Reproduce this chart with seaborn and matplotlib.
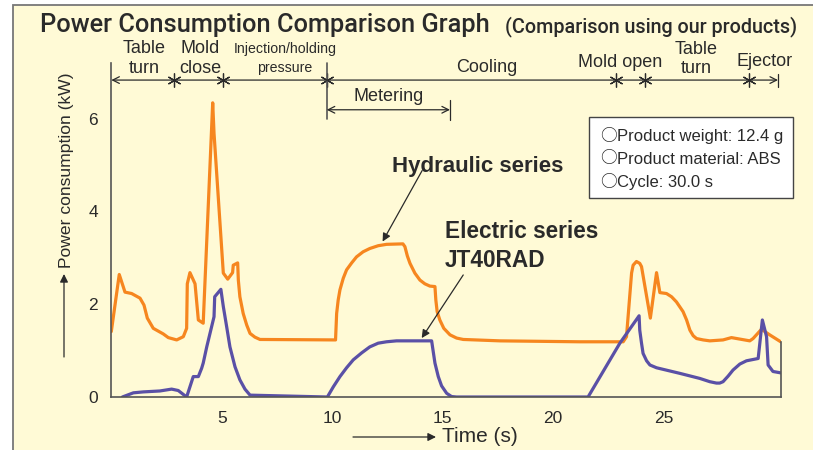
import matplotlib
matplotlib.use("Agg")
import matplotlib.pyplot as plt
from matplotlib.patches import Rectangle
import seaborn as sns
import pandas as pd

# ---------------- data ----------------
hydraulic_t = [0.0, 0.36, 0.62, 0.92, 1.30, 1.48, 1.63, 1.90, 2.35, 2.58, 2.96, 3.26, 3.41, 3.44, 3.56,
               3.79, 3.94, 4.16, 4.59, 4.65, 5.07, 5.27, 5.49, 5.52, 5.72, 5.75, 5.82, 5.97, 6.13, 6.28,
               6.50, 6.73, 10.15, 10.20, 10.27, 10.35, 10.50, 10.65, 10.88, 11.10, 11.40, 11.70, 12.08,
               12.46, 13.20, 13.29, 13.40, 13.52, 13.74, 13.97, 14.19, 14.42, 14.65, 14.69, 14.75, 14.87,
               15.05, 15.33, 15.63, 15.93, 17.59, 21.2, 23.17, 23.32, 23.55, 23.62, 23.77, 23.92, 24.00,
               24.18, 24.40, 24.68, 24.83, 25.13, 25.36, 25.58, 25.88, 26.04, 26.19, 26.34, 26.49, 26.79,
               27.09, 27.69, 28.07, 28.90, 29.05, 29.43, 29.80, 30.30]
hydraulic_kw = [1.41, 2.64, 2.26, 2.23, 2.13, 1.98, 1.70, 1.48, 1.36, 1.28, 1.23, 1.30, 1.48, 2.44, 2.68,
                2.44, 1.66, 1.59, 6.34, 5.68, 2.67, 2.54, 2.68, 2.84, 2.89, 2.52, 2.16, 1.80, 1.55, 1.37,
                1.29, 1.24, 1.23, 1.80, 2.09, 2.31, 2.56, 2.74, 2.89, 3.02, 3.13, 3.20, 3.26,
                3.29, 3.30, 3.24, 3.04, 2.88, 2.67, 2.52, 2.44, 2.39, 2.38, 2.09, 1.84, 1.66,
                1.48, 1.34, 1.27, 1.24, 1.21, 1.19, 1.19, 1.30, 2.67, 2.84, 2.92, 2.88, 2.81,
                2.31, 1.70, 2.68, 2.25, 2.23, 2.16, 2.05, 1.84, 1.66, 1.44, 1.32, 1.26, 1.23,
                1.21, 1.23, 1.28, 1.21, 1.26, 1.46, 1.34, 1.19]

electric_t = [0.50, 1.00, 1.45, 2.20, 2.73, 3.03, 3.41, 3.71, 3.94, 4.09, 4.16, 4.32, 4.65, 4.68, 4.96,
              5.07, 5.22, 5.37, 5.60, 5.82, 6.05, 6.28, 9.78, 10.05, 10.35, 10.65, 10.95, 11.33, 11.70,
              12.08, 12.46, 12.91, 14.50, 14.54, 14.65, 14.80, 14.95, 15.18, 15.40, 15.63, 21.58, 23.02,
              23.89, 23.92, 24.00, 24.07, 24.23, 24.38, 24.68, 25.73, 26.64, 27.09, 27.39, 27.54, 27.69,
              27.92, 28.14, 28.45, 28.75, 29.28, 29.47, 29.66, 29.73, 29.95, 30.30]
electric_kw = [0.00, 0.09, 0.11, 0.13, 0.17, 0.14, 0.00, 0.44, 0.44, 0.62, 0.73, 1.08, 1.73, 2.16, 2.32,
               1.95, 1.52, 1.08, 0.65, 0.37, 0.17, 0.04, 0.00, 0.22, 0.44, 0.63, 0.80, 0.95, 1.08,
               1.16, 1.19, 1.21, 1.21, 1.08, 0.73, 0.44, 0.24, 0.08, 0.01, 0.00, 0.00, 1.16,
               1.75, 1.44, 1.16, 0.94, 0.78, 0.69, 0.63, 0.51, 0.40, 0.33, 0.30, 0.30, 0.33,
               0.45, 0.58, 0.71, 0.78, 0.83, 1.66, 1.30, 0.69, 0.55, 0.52]

x_ticks = [5, 10, 15, 20, 25]
y_ticks = [0, 2, 4, 6]

phase_marks = [2.85, 5.07, 9.75, 22.84, 24.18, 28.87]
phase_end = 30.18
metering_span = [9.75, 15.33]

title = "Power Consumption Comparison Graph"
subtitle = "(Comparison using our products)"
info_bullet = "○"
info_lines = ["Product weight: 12.4 g", "Product material: ABS", "Cycle: 30.0 s"]

# ---------------- style ----------------
sns.set_theme(style="white")
plt.rcParams["font.family"] = ["Liberation Sans", "DejaVu Sans"]

ORANGE = "#F6861F"
BLUE = "#5A50A6"
BG = "#FFFAD6"
INK = "#2a2a2a"
AX = "#555555"

W, H = 813, 450
fig = plt.figure(figsize=(W / 100, H / 100), dpi=100, facecolor="white")


def fx(px):
    return px / W


def fy(py):
    return 1 - py / H


# background panel with border
fig.patches.append(Rectangle((fx(13), -0.05), 1.2, fy(5) + 0.05, transform=fig.transFigure,
                             facecolor=BG, edgecolor="#777777", lw=1.3, zorder=-5))

ax = fig.add_axes([fx(111.3), fy(397), fx(780.7) - fx(111.3), fy(62.9) - fy(397)])
ax.set_facecolor("none")

df_h = pd.DataFrame({"t": hydraulic_t, "kw": hydraulic_kw})
df_e = pd.DataFrame({"t": electric_t, "kw": electric_kw})
sns.lineplot(data=df_h, x="t", y="kw", ax=ax, color=ORANGE, lw=2.3, sort=False, estimator=None,
             solid_joinstyle="round", solid_capstyle="round")
sns.lineplot(data=df_e, x="t", y="kw", ax=ax, color=BLUE, lw=2.3, sort=False, estimator=None,
             solid_joinstyle="round", solid_capstyle="round")

ax.set_xlim(0, 30.3)
ax.set_ylim(0, 7.2)
ax.set_xticks(x_ticks)
ax.set_yticks(y_ticks)
ax.set_xlabel("")
ax.set_ylabel("")
ax.spines["top"].set_visible(False)
for s in ["left", "bottom", "right"]:
    ax.spines[s].set_color(AX)
    ax.spines[s].set_linewidth(1.2)
ax.spines["right"].set_bounds(0, hydraulic_kw[-1])
ax.tick_params(axis="both", direction="out", length=6, width=1, color=AX, labelsize=12.5,
               labelcolor=INK)
ax.tick_params(axis="x", pad=4)
ax.tick_params(axis="y", pad=3.5)

# ---------------- phase annotations ----------------
PH_Y = 6.83
arrow_kw = dict(arrowstyle="<->", color=INK, lw=0.9, shrinkA=0, shrinkB=0,
                mutation_scale=12)
ax.annotate("", xy=(0, PH_Y), xytext=(phase_end, PH_Y), arrowprops=arrow_kw, annotation_clip=False)
ax.plot([phase_end, phase_end], [6.68, 6.96], color=INK, lw=0.9, clip_on=False)
ax.plot(phase_marks, [PH_Y] * len(phase_marks), ls="none", marker=(6, 2, 0), ms=10, mew=0.9,
        color=INK, clip_on=False)
ax.plot([metering_span[0]] * 2, [6.0, 7.2], color=AX, lw=1.2, clip_on=False)
ax.annotate("", xy=(metering_span[0], 6.19), xytext=(metering_span[1], 6.19), arrowprops=arrow_kw,
            annotation_clip=False)
ax.plot([metering_span[1]] * 2, [5.97, 6.41], color=INK, lw=0.9, clip_on=False)

lab = dict(fontsize=13, color=INK, ha="center", va="center", clip_on=False)
ax.text(1.5, 7.5, "Table", **lab)
ax.text(1.5, 7.09, "turn", **lab)
ax.text(4.02, 7.5, "Mold", **lab)
ax.text(4.02, 7.09, "close", **lab)
small = dict(lab)
small["fontsize"] = 10.2
ax.text(7.86, 7.5, "Injection/holding", **small)
ax.text(7.86, 7.09, "pressure", **small)
ax.text(17.0, 7.11, "Cooling", **lab)
ax.text(23.02, 7.2, "Mold open", **lab)
ax.text(26.49, 7.48, "Table", **lab)
ax.text(26.49, 7.09, "turn", **lab)
ax.text(29.55, 7.22, "Ejector", **lab)
ax.text(12.57, 6.47, "Metering", **lab)

# ---------------- series labels ----------------
ax.text(12.69, 4.856, "Hydraulic series", fontsize=16, fontweight="bold", color=INK, va="baseline")
ax.text(15.1, 3.42, "Electric series", fontsize=16.3, fontweight="bold", color=INK, va="baseline")
ax.text(15.1, 2.81, "JT40RAD", fontsize=16.3, fontweight="bold", color=INK, va="baseline")
pointer = dict(arrowstyle="-|>", color=INK, lw=0.9, mutation_scale=12, shrinkA=0, shrinkB=0)
ax.annotate("", xy=(12.28, 3.35), xytext=(14.07, 4.88), arrowprops=pointer)
ax.annotate("", xy=(14.05, 1.27), xytext=(15.93, 2.63), arrowprops=pointer)

# ---------------- titles / axis labels ----------------
head_family = ["Roboto", "Liberation Sans", "DejaVu Sans"]
fig.text(fx(40), fy(32), title, fontsize=18.3, color=INK, va="baseline", ha="left",
         family=head_family, fontweight="medium")
fig.text(fx(797), fy(32), subtitle, fontsize=14.2, color=INK, va="baseline", ha="right",
         family=head_family, fontweight="medium")

fig.text(fx(66), fy(268), "Power consumption (kW)", rotation=90, fontsize=12.6, color=INK,
         ha="center", va="bottom")
ax.annotate("", xy=(fx(64), fy(274)), xytext=(fx(64), fy(357)), xycoords="figure fraction",
            textcoords="figure fraction",
            arrowprops=dict(arrowstyle="-|>", color=INK, lw=0.9, mutation_scale=12,
                            shrinkA=0, shrinkB=0))
fig.text(fx(442), fy(437), "Time (s)", fontsize=15, color=INK, ha="left", va="center")
ax.annotate("", xy=(fx(436), fy(437)), xytext=(fx(353), fy(437)), xycoords="figure fraction",
            textcoords="figure fraction",
            arrowprops=dict(arrowstyle="-|>", color=INK, lw=0.9, mutation_scale=12,
                            shrinkA=0, shrinkB=0))

# ---------------- info box ----------------
fig.patches.append(Rectangle((fx(589.3), fy(198.3)), fx(793.3) - fx(589.3), fy(117.3) - fy(198.3),
                             transform=fig.transFigure, facecolor="white", edgecolor="#444444",
                             lw=1.0, zorder=3))
for py, line in zip([136, 159, 182], info_lines):
    fig.text(fx(600), fy(py), info_bullet, fontsize=12, color=INK, ha="left", va="center", zorder=4,
             family=["Noto Sans CJK JP", "DejaVu Sans"])
    fig.text(fx(617), fy(py), line, fontsize=12, color=INK, ha="left", va="center", zorder=4)

fig.savefig("out.png", dpi=100, facecolor="white")
